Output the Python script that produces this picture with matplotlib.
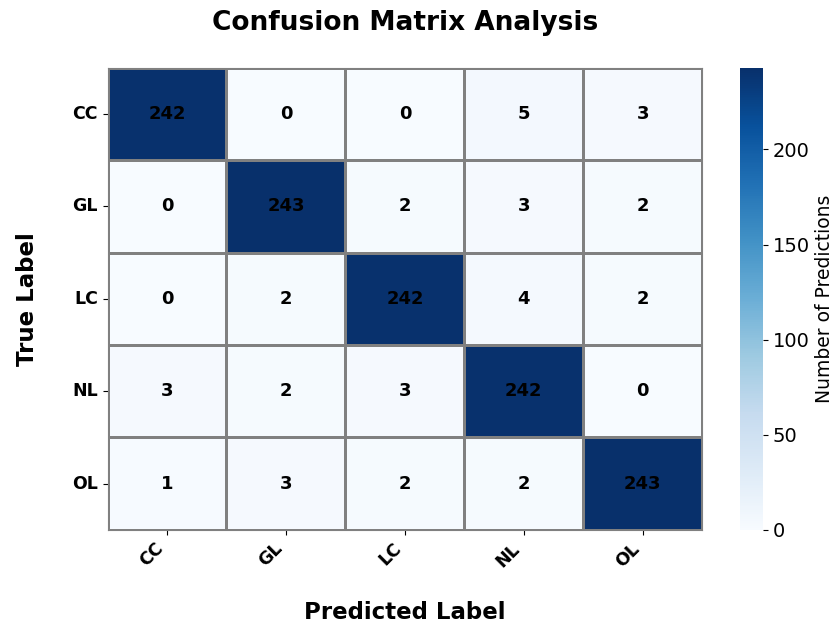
#!/usr/bin/env python3
import numpy as np
import matplotlib
matplotlib.use("Agg")
import matplotlib.pyplot as plt
import seaborn as sns

plt.rcParams["font.family"] = ["DejaVu Sans"]

# Class labels and confusion matrix counts (rows = true, cols = predicted)
labels = ["CC", "GL", "LC", "NL", "OL"]
row_cc = [242, 0, 0, 5, 3]
row_gl = [0, 243, 2, 3, 2]
row_lc = [0, 2, 242, 4, 2]
row_nl = [3, 2, 3, 242, 0]
row_ol = [1, 3, 2, 2, 243]

cm = np.array([row_cc, row_gl, row_lc, row_nl, row_ol])

fig = plt.figure(figsize=(8.4, 6.27), dpi=100)
ax = fig.add_axes([0.128, 0.155, 0.708, 0.737])
cax = fig.add_axes([0.881, 0.155, 0.027, 0.737])

sns.heatmap(
    cm, ax=ax, cbar_ax=cax, cmap="Blues",
    annot=True, fmt="d",
    annot_kws={"size": 13, "weight": "bold", "color": "black"},
    linewidths=0.8, linecolor="gray",
    xticklabels=labels, yticklabels=labels,
    cbar_kws={"label": "Number of Predictions"},
)

# Frame around the matrix
for spine in ax.spines.values():
    spine.set_visible(True)
    spine.set_color("gray")
    spine.set_linewidth(0.8)

ax.set_title("Confusion Matrix Analysis", fontsize=19, fontweight="bold", pad=27)
ax.set_xlabel("Predicted Label", fontsize=16.5, fontweight="bold", labelpad=22)
ax.set_ylabel("True Label", fontsize=16.5, fontweight="bold", labelpad=24)
plt.setp(ax.get_xticklabels(), rotation=45, ha="right",
         fontsize=12.5, fontweight="bold")
plt.setp(ax.get_yticklabels(), rotation=0, fontsize=12.5, fontweight="bold")

cax.tick_params(labelsize=14)
cax.yaxis.label.set_size(13.5)

fig.savefig("out.png", dpi=100)
